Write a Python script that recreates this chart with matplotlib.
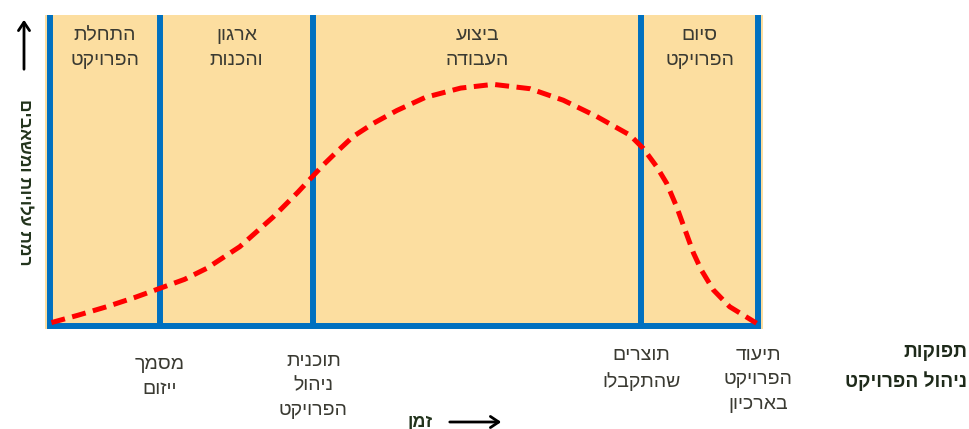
import matplotlib
matplotlib.use("Agg")
import matplotlib.pyplot as plt

plt.rcParams['font.family'] = ['Liberation Sans', 'DejaVu Sans']

# ---- data ----
phase_names = ["התחלת\nהפרויקט", "ארגון\nוהכנות", "ביצוע\nהעבודה", "סיום\nהפרויקט"]
phase_bounds = [0, 15.5, 37.2, 83.5, 100]          # time (% of project)
outputs = ["מסמך\nייזום", "תוכנית\nניהול\nהפרויקט", "תוצרים\nשהתקבלו", "תיעוד\nהפרויקט\nבארכיון"]
output_times = [15.5, 37.2, 83.5, 100]
time = [0.2, 4.0, 8.0, 12.0, 15.5, 19.0, 22.1, 26.8, 31.5, 35.0, 38.6, 40.5, 42.8,
        45.7, 49.0, 53.0, 58.0, 62.6, 67.8, 72.5, 77.2, 81.9, 83.8, 85.7, 87.1,
        88.5, 89.7, 90.9, 92.0, 93.7, 96.0, 99.8]
effort = [1.1, 3.5, 6.2, 9.2, 12.1, 15.0, 18.5, 25.5, 35.0, 43.0, 51.8, 56.0, 60.9,
          65.2, 69.3, 73.5, 76.5, 77.7, 76.3, 72.6, 67.4, 61.4, 57.1, 51.2, 45.9,
          38.4, 30.9, 23.4, 18.0, 11.6, 6.2, 0.9]
y_label = "רמת עלויות ומשאבים"
x_label = "זמן"
outputs_title = "תפוקות\nניהול הפרויקט"


def rtl(s):
    return "\n".join(line[::-1] for line in s.split("\n"))


W, H = 970, 429
fig = plt.figure(figsize=(W / 100, H / 100), dpi=100)
ax = fig.add_axes([45 / W, 1 - 329 / H, 718 / W, 314 / H])
ax.set_facecolor("#FCDEA0")
ax.set_xlim(-0.71, 100.71)
ax.set_ylim(-0.96, 100)
for s in ax.spines.values():
    s.set_visible(False)
ax.set_xticks([])
ax.set_yticks([])

blue = "#0070C0"
txt = "#3A3A32"
# bottom line
ax.plot([phase_bounds[0], phase_bounds[-1]], [0, 0], color=blue, lw=4.3,
        solid_capstyle="projecting", zorder=2, clip_on=False)
# vertical phase boundaries
for b in phase_bounds:
    ax.plot([b, b], [0, 100], color=blue, lw=4.3, solid_capstyle="butt",
            zorder=2, clip_on=False)

# curve
ax.plot(time, effort, color="#FF0000", lw=3.6, linestyle=(0, (2.8, 1.5)),
        zorder=3, clip_on=False)

# phase names
for i, name in enumerate(phase_names):
    xc = (phase_bounds[i] + phase_bounds[i + 1]) / 2
    ax.text(xc, 96.2, rtl(name), ha="center", va="top", fontsize=14,
            color=txt, linespacing=1.6, multialignment="center")

# outputs under boundaries
tops = [-9.8, -8.6, -6.6, -6.6]
for t, o, yt in zip(output_times, outputs, tops):
    ax.text(t, yt, rtl(o), ha="center", va="top", fontsize=14, color=txt,
            linespacing=1.6, multialignment="center", clip_on=False)

# outputs title
fig.text(967 / W, 1 - 344 / H, rtl(outputs_title), ha="right", va="top",
         fontsize=13.8, fontweight="bold", color="#1E2A1A",
         multialignment="right", linespacing=1.65)

# y label and arrow
fig.text(24 / W, 1 - 182 / H, rtl(y_label), rotation=270, ha="center",
         va="center", fontsize=12.5, fontweight="bold", color="#22331C")
fig.add_artist(matplotlib.patches.FancyArrowPatch(
    (24 / W, 1 - 72 / H), (24 / W, 1 - 17 / H), transform=fig.transFigure,
    arrowstyle="->,head_length=6,head_width=4", lw=2, color="black"))

# x label and arrow
fig.text(420 / W, 1 - 422 / H, rtl(x_label), ha="center", va="center",
         fontsize=13, fontweight="bold", color="#22331C")
fig.add_artist(matplotlib.patches.FancyArrowPatch(
    (447 / W, 1 - 422 / H), (504 / W, 1 - 422 / H), transform=fig.transFigure,
    arrowstyle="->,head_length=6,head_width=4", lw=2, color="black"))

fig.savefig("out.png", dpi=100, facecolor="white")
